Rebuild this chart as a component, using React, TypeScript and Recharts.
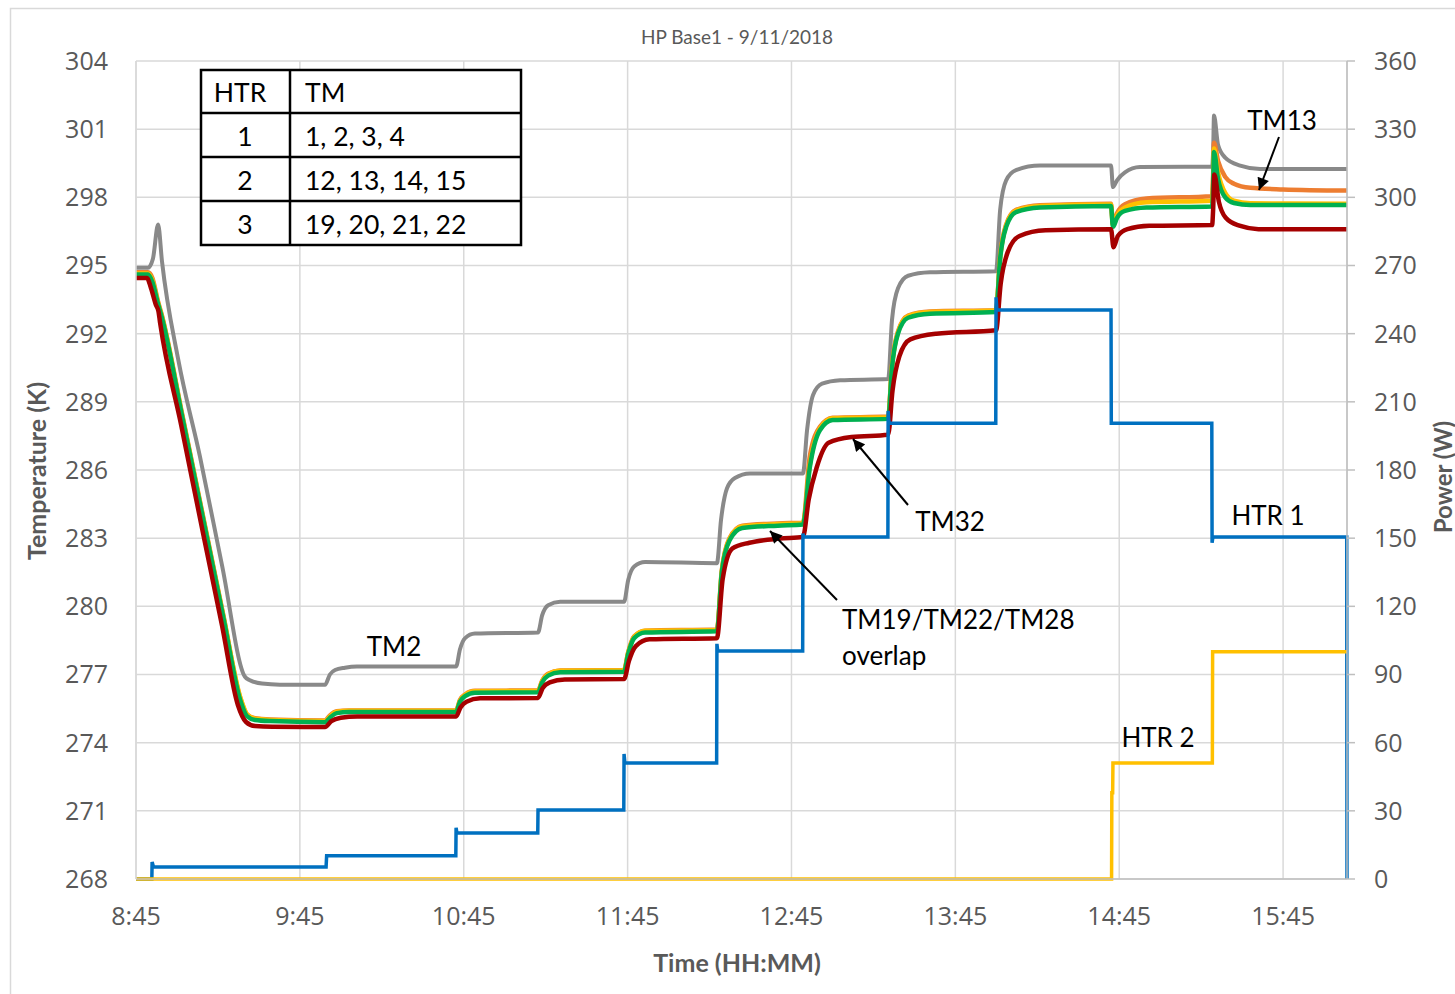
import React from "react";
import { LineChart, Line, XAxis, YAxis, CartesianGrid } from "recharts";

// times are minutes after midnight (525 = 8:45)
const timeTicks = [525, 585, 645, 705, 765, 825, 885, 945];
const tempTicks = [268, 271, 274, 277, 280, 283, 286, 289, 292, 295, 298, 301, 304];
const powerTicks = [0, 30, 60, 90, 120, 150, 180, 210, 240, 270, 300, 330, 360];

// TM2 (grey)
const tm2: [number, number][] = [
  [525, 294.9], [529.4, 294.9], [531.2, 295.3], [533.1, 296.8], [534.5, 295.2],
  [540.4, 290.9], [548.4, 286.6], [556.5, 281.8], [564.9, 276.9], [566.7, 276.75],
  [571.1, 276.6], [577.7, 276.55],
  [594.2, 276.55], [596.0, 277.0], [597.9, 277.2], [601.5, 277.3], [605.9, 277.35],
  [642.2, 277.35], [643.6, 278.1], [645.5, 278.6], [649.1, 278.8], [672.2, 278.85],
  [673.7, 279.6], [675.9, 280.05], [680.3, 280.2], [703.7, 280.2], [705.2, 281.15],
  [707.4, 281.75], [711.4, 281.95], [737.7, 281.9], [739.2, 283.8], [741.4, 285.2],
  [744.3, 285.65], [749.8, 285.85], [769.2, 285.85], [770.7, 287.75], [772.9, 289.3],
  [776.2, 289.8], [782.8, 289.95], [800.4, 290.0], [801.8, 292.6], [804.0, 294.0],
  [807.7, 294.55], [815.7, 294.7], [839.9, 294.75], [841.4, 297.45], [843.6, 298.75],
  [847.2, 299.2], [856.0, 299.4], [882.0, 299.4], [882.7, 298.45], [884.2, 298.75],
  [887.1, 299.1], [892.6, 299.33], [919.0, 299.35], [919.4, 300.1], [919.7, 301.6],
  [921.2, 300.3], [923.8, 299.75], [929.3, 299.4], [936.6, 299.25], [968.4, 299.25],
];

// TM13 (orange)
const tm13: [number, number][] = [
  [525, 294.7], [529.4, 294.7], [531.0, 294.45], [533.1, 293.4], [534.5, 292.8],
  [542, 288.4], [550, 283.7], [557, 279.6],
  [563.1, 276.0], [565.6, 275.25], [568.6, 275.08], [574.1, 275.02], [594.2, 274.98],
  [596, 275.2], [598.5, 275.38], [603, 275.42], [642.2, 275.42], [643.6, 275.88],
  [645.5, 276.12], [649.1, 276.28], [672.2, 276.3], [673.7, 276.72], [675.9, 277.03],
  [680.3, 277.18], [703.7, 277.2], [705.2, 277.98], [707.4, 278.68], [711.4, 278.93],
  [737.7, 278.98], [739.5, 281.6], [742.3, 283.0], [747, 283.55], [760, 283.65],
  [769.2, 283.68], [771.7, 286.6], [775.4, 287.9], [780.1, 288.3], [800.4, 288.35],
  [801.8, 290.6], [804, 292.1], [807.7, 292.8], [815.7, 292.98], [839.9, 293.03],
  [841.4, 295.4], [843.6, 296.8], [847.2, 297.45], [856, 297.65], [882.0, 297.72],
  [882.7, 296.8], [884.2, 297.3], [887.1, 297.7], [895, 297.95], [919.0, 298.05],
  [919.4, 299.0], [919.7, 300.4], [921.2, 299.6], [923.8, 298.9], [927, 298.6],
  [933, 298.42], [945, 298.35], [968.4, 298.3],
];

// TM19 (yellow)
const tm19: [number, number][] = [
  [525, 294.65], [529.4, 294.65], [531.0, 294.35], [533.1, 293.35], [534.5, 292.75],
  [542, 288.35], [550, 283.65], [557, 279.55],
  [563.3, 275.95], [565.8, 275.22], [568.6, 275.05], [574.1, 275.0], [594.2, 274.95],
  [596, 275.15], [598.5, 275.36], [603, 275.4], [642.2, 275.4], [643.6, 275.85],
  [645.5, 276.1], [649.1, 276.26], [672.2, 276.28], [673.7, 276.7], [675.9, 277.0],
  [680.3, 277.16], [703.7, 277.18], [705.2, 277.95], [707.4, 278.66], [711.4, 278.92],
  [737.7, 278.96], [739.5, 281.55], [742.3, 282.96], [747, 283.52], [760, 283.62],
  [769.2, 283.66], [771.7, 286.2], [775.4, 287.83], [780.1, 288.28], [800.4, 288.32],
  [801.8, 290.56], [804, 292.06], [807.7, 292.77], [815.7, 292.95], [839.9, 293.02],
  [841.4, 295.36], [843.6, 296.76], [847.2, 297.42], [856, 297.62], [882.0, 297.68],
  [882.7, 296.75], [884.2, 297.2], [887.1, 297.55], [895, 297.78], [919.0, 297.85],
  [919.4, 298.8], [919.7, 300.15], [921.2, 299.1], [923.8, 298.2], [927, 297.85],
  [933, 297.74], [968.4, 297.72],
];

// TM22 / TM28 (green)
const tm22: [number, number][] = [
  [525, 294.6], [529.4, 294.6], [530.9, 294.3], [533.1, 293.3], [534.5, 292.7],
  [542, 288.3], [550, 283.6], [557, 279.5],
  [563.1, 275.9], [565.6, 275.17], [568.6, 275.0], [574.1, 274.95], [594.2, 274.9],
  [596, 275.1], [598.5, 275.3], [603, 275.35], [642.2, 275.35], [643.6, 275.8],
  [645.5, 276.05], [649.1, 276.2], [672.2, 276.22], [673.7, 276.65], [675.9, 276.95],
  [680.3, 277.1], [703.7, 277.12], [705.2, 277.9], [707.4, 278.6], [711.4, 278.85],
  [737.7, 278.9], [739.5, 281.5], [742.3, 282.9], [747, 283.45], [760, 283.55],
  [769.2, 283.6], [771.7, 286.1], [775.4, 287.75], [780.1, 288.2], [800.4, 288.25],
  [801.8, 290.5], [804, 292.0], [807.7, 292.7], [815.7, 292.88], [839.9, 292.95],
  [841.4, 295.3], [843.6, 296.7], [847.2, 297.35], [856, 297.55], [882.0, 297.62],
  [882.7, 296.7], [884.2, 297.1], [887.1, 297.4], [895, 297.55], [919.0, 297.6],
  [919.4, 298.5], [919.7, 300.0], [921.2, 298.8], [923.8, 298.0], [927, 297.75],
  [933, 297.66], [968.4, 297.66],
];

// TM32 (dark red)
const tm32: [number, number][] = [
  [525, 294.45], [529.0, 294.45], [530.5, 294.0], [532.3, 293.26], [533.2, 293.0],
  [533.8, 292.5], [541.5, 288.0], [549.5, 283.25], [556.5, 279.15],
  [562.3, 275.66], [565.3, 274.91], [568.6, 274.73], [575, 274.7],
  [594.2, 274.69], [596.5, 274.95], [600, 275.1], [606, 275.15], [642.2, 275.15],
  [643.8, 275.55], [646, 275.8], [651, 275.95], [672.2, 275.97], [673.9, 276.4],
  [676.5, 276.65], [682, 276.78], [703.7, 276.8], [705.5, 277.6], [708, 278.25],
  [713, 278.55], [737.7, 278.6], [739.8, 281.2], [743.4, 282.55], [749.6, 282.8],
  [760.6, 282.98], [769.2, 283.05], [771.3, 284.7], [774.2, 286.1], [778.6, 287.2],
  [787, 287.45], [800.4, 287.55], [802, 289.5], [804.5, 291.0], [808.5, 291.75],
  [818, 292.0], [839.9, 292.15], [841.6, 294.2], [844.2, 295.6], [848.5, 296.3],
  [858, 296.55], [882.0, 296.6], [882.9, 295.8], [884.5, 296.3], [888, 296.6],
  [896, 296.75], [919.0, 296.78], [919.4, 297.5], [919.8, 299.0], [921.5, 297.8],
  [924, 297.1], [929, 296.75], [936, 296.6], [968.4, 296.6],
];

// HTR 1 power (blue)
const htr1: [number, number][] = [
  [525, 0], [530.8, 0], [530.9, 7.5], [531.4, 5.3], [594.6, 5.3], [594.8, 10.2],
  [642.1, 10.2], [642.2, 22.5], [642.5, 20.2], [672.1, 20.2], [672.2, 30.4],
  [703.6, 30.4], [703.7, 55], [704.0, 51], [737.6, 51], [737.7, 103.5], [738.0, 100.3],
  [769.1, 100.3], [769.2, 152], [769.5, 150.5], [800.3, 150.5], [800.4, 206],
  [800.7, 200.6], [839.8, 200.6], [839.9, 256], [840.2, 250.4], [882.0, 250.4],
  [882.1, 200.6], [918.9, 200.6], [919.0, 148], [919.3, 150.5], [968.3, 150.5],
  [968.4, 0],
];

// HTR 2 power (yellow)
const htr2: [number, number][] = [
  [525, 0], [882.2, 0], [882.3, 38], [882.6, 38], [882.7, 51], [919.1, 51],
  [919.2, 100], [968.4, 100],
];

const rows = (pts: [number, number][]) => pts.map(([t, v]) => ({ t, v }));

const fmtTime = (m: number) =>
  `${Math.floor(m / 60)}:${String(Math.round(m % 60)).padStart(2, "0")}`;

const tickStyle = { fill: "#595959", fontSize: 25, fontFamily: "Open Sans" };
const noteFont = "Lato";

export default function App() {
  return (
    <div style={{ position: "absolute", left: 0, top: 0, width: 1455, height: 994, background: "#fff" }}>
      <LineChart
        width={1455}
        height={994}
        margin={{ top: 61, right: 8, bottom: 75, left: 60 }}
      >
        <CartesianGrid stroke="#D9D9D9" strokeWidth={1.5} yAxisId="temp" />
        <XAxis
          dataKey="t"
          type="number"
          domain={[525, 968.4]}
          ticks={timeTicks}
          tickFormatter={fmtTime}
          height={40}
          tickSize={0}
          tickMargin={28}
          axisLine={{ stroke: "#BFBFBF", strokeWidth: 1.5 }}
          tick={tickStyle}
        />
        <YAxis
          yAxisId="temp"
          domain={[268, 304]}
          ticks={tempTicks}
          width={76}
          tickSize={0}
          tickMargin={28}
          axisLine={{ stroke: "#D9D9D9", strokeWidth: 1.5 }}
          tick={tickStyle}
        />
        <YAxis
          yAxisId="power"
          orientation="right"
          domain={[0, 360]}
          ticks={powerTicks}
          width={100}
          tickSize={8}
          tickMargin={19}
          axisLine={{ stroke: "#BFBFBF", strokeWidth: 1.5 }}
          tickLine={{ stroke: "#BFBFBF", strokeWidth: 1.5 }}
          tick={tickStyle}
        />
        <Line yAxisId="temp" data={rows(tm2)} dataKey="v" type="monotone" stroke="#898989" strokeWidth={4} dot={false} isAnimationActive={false} />
        <Line yAxisId="temp" data={rows(tm13)} dataKey="v" type="monotone" stroke="#ED7D31" strokeWidth={4.5} dot={false} isAnimationActive={false} />
        <Line yAxisId="temp" data={rows(tm19)} dataKey="v" type="monotone" stroke="#FFC000" strokeWidth={4.5} dot={false} isAnimationActive={false} />
        <Line yAxisId="temp" data={rows(tm22)} dataKey="v" type="monotone" stroke="#00B050" strokeWidth={4.5} dot={false} isAnimationActive={false} />
        <Line yAxisId="temp" data={rows(tm32)} dataKey="v" type="monotone" stroke="#A50000" strokeWidth={4.5} dot={false} isAnimationActive={false} />
        <Line yAxisId="power" data={rows(htr1)} dataKey="v" type="linear" stroke="#0070C0" strokeWidth={3.5} dot={false} isAnimationActive={false} />
        <Line yAxisId="power" data={rows(htr2)} dataKey="v" type="linear" stroke="#FFC000" strokeWidth={3.5} dot={false} isAnimationActive={false} />
      </LineChart>

      <svg
        width={1455}
        height={994}
        style={{ position: "absolute", left: 0, top: 0, pointerEvents: "none" }}
      >
        <defs>
          <marker id="arr" viewBox="0 0 10 10" refX="10" refY="5" markerWidth="7" markerHeight="6" orient="auto">
            <path d="M0,0 L10,5 L0,10 z" fill="#000" />
          </marker>
        </defs>
        <rect x={10.5} y={8.5} width={1460} height={1000} fill="none" stroke="#D9D9D9" strokeWidth={1.5} />

        {/* titles */}
        <text x={737} y={36} textAnchor="middle" dominantBaseline="central" fontFamily={noteFont} fontSize={19} fill="#595959">
          HP Base1 - 9/11/2018
        </text>
        <text x={737} y={962} textAnchor="middle" dominantBaseline="central" fontFamily={noteFont} fontSize={25} fontWeight="bold" fill="#595959">
          Time (HH:MM)
        </text>
        <text transform="translate(36,471) rotate(-90)" textAnchor="middle" dominantBaseline="central" fontFamily={noteFont} fontSize={25} fontWeight="bold" fill="#595959">
          Temperature (K)
        </text>
        <text transform="translate(1442,477) rotate(-90)" textAnchor="middle" dominantBaseline="central" fontFamily={noteFont} fontSize={24} fontWeight="bold" fill="#595959">
          Power (W)
        </text>

        {/* heater / TM table */}
        <g fontFamily={noteFont} fontSize={26.5} fill="#000">
          <rect x={201} y={70} width={320} height={175} fill="#fff" stroke="#000" strokeWidth={2.5} />
          <line x1={290} y1={70} x2={290} y2={245} stroke="#000" strokeWidth={2.5} />
          <line x1={201} y1={113} x2={521} y2={113} stroke="#000" strokeWidth={2.5} />
          <line x1={201} y1={157} x2={521} y2={157} stroke="#000" strokeWidth={2.5} />
          <line x1={201} y1={201} x2={521} y2={201} stroke="#000" strokeWidth={2.5} />
          <text x={240} y={92} textAnchor="middle" dominantBaseline="central">HTR</text>
          <text x={305} y={92} dominantBaseline="central">TM</text>
          <text x={245} y={136} textAnchor="middle" dominantBaseline="central">1</text>
          <text x={305} y={136} dominantBaseline="central">1, 2, 3, 4</text>
          <text x={245} y={180} textAnchor="middle" dominantBaseline="central">2</text>
          <text x={305} y={180} dominantBaseline="central">12, 13, 14, 15</text>
          <text x={245} y={224} textAnchor="middle" dominantBaseline="central">3</text>
          <text x={305} y={224} dominantBaseline="central">19, 20, 21, 22</text>
        </g>

        {/* annotations */}
        <g fontFamily={noteFont} fontSize={26} fill="#000">
          <text x={394} y={646} textAnchor="middle" dominantBaseline="central">TM2</text>
          <text x={1282} y={120} textAnchor="middle" dominantBaseline="central">TM13</text>
          <text x={950} y={521} textAnchor="middle" dominantBaseline="central">TM32</text>
          <text x={842} y={619} dominantBaseline="central">TM19/TM22/TM28</text>
          <text x={842} y={655} dominantBaseline="central">overlap</text>
          <text x={1268} y={515} textAnchor="middle" dominantBaseline="central">HTR 1</text>
          <text x={1158} y={737} textAnchor="middle" dominantBaseline="central">HTR 2</text>
        </g>
        <g stroke="#000" strokeWidth={2}>
          <line x1={1279} y1={137} x2={1259} y2={190} markerEnd="url(#arr)" />
          <line x1={908} y1={505} x2={853} y2={439} markerEnd="url(#arr)" />
          <line x1={837} y1={600} x2={770} y2={531} markerEnd="url(#arr)" />
        </g>
      </svg>
    </div>
  );
}
